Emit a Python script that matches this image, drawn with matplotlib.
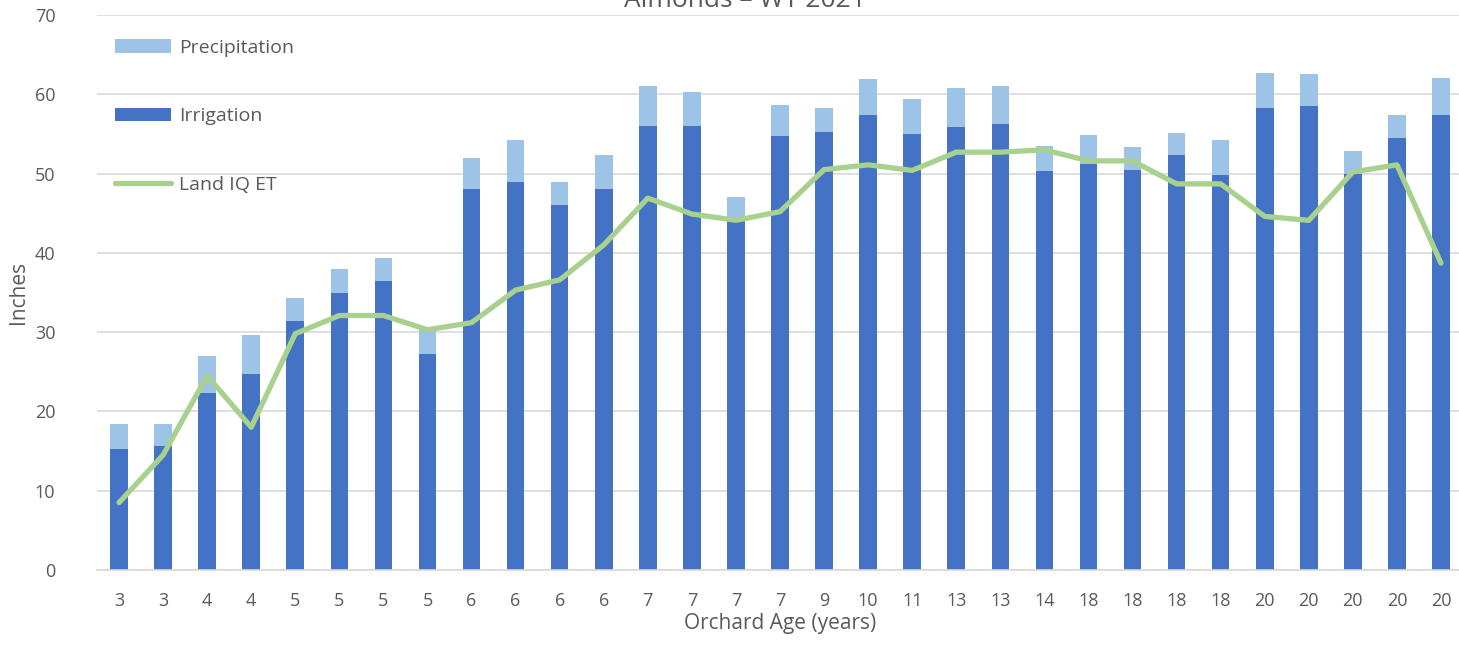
import numpy as np
import matplotlib
matplotlib.use("Agg")
import matplotlib.pyplot as plt

plt.rcParams["font.family"] = ["Open Sans", "DejaVu Sans"]

# ===== data =====
ages = ["3", "3", "4", "4", "5", "5", "5", "5", "6", "6", "6", "6", "7", "7", "7", "7",
        "9", "10", "11", "13", "13", "14", "18", "18", "18", "18", "20", "20", "20", "20", "20"]
irrigation = [15.3, 15.6, 22.3, 24.7, 31.4, 35.0, 36.5, 27.2, 48.0, 49.0, 46.0, 48.0,
              56.0, 56.0, 44.2, 54.7, 55.2, 57.4, 55.0, 55.9, 56.3, 50.3, 51.2, 50.5,
              52.3, 49.8, 58.3, 58.5, 50.0, 54.5, 57.4]
total = [18.4, 18.4, 27.0, 29.6, 34.3, 38.0, 39.4, 30.5, 52.0, 54.2, 48.9, 52.4,
         61.0, 60.3, 47.0, 58.7, 58.3, 61.9, 59.4, 60.8, 61.0, 53.5, 54.9, 53.4,
         55.1, 54.2, 62.7, 62.5, 52.8, 57.4, 62.0]
land_iq_et = [8.5, 14.5, 24.5, 18.0, 29.8, 32.1, 32.1, 30.3, 31.2, 35.3, 36.6, 41.0,
              46.9, 44.9, 44.1, 45.2, 50.5, 51.1, 50.4, 52.7, 52.7, 53.0, 51.6, 51.6,
              48.7, 48.7, 44.6, 44.1, 50.2, 51.1, 38.7]
precipitation = [t - i for t, i in zip(total, irrigation)]

BLUE, LIGHT, GREEN = "#4472C4", "#9DC3E6", "#A9D18E"
GRID, TXT = "#D9D9D9", "#595959"

fig = plt.figure(figsize=(14.59, 6.53), dpi=100)
ax = fig.add_axes([97 / 1459, 83 / 653, 1366 / 1459, 555 / 653])

x = np.arange(len(ages))
b_irr = ax.bar(x, irrigation, width=0.4, color=BLUE, label="Irrigation", zorder=2)
b_pre = ax.bar(x, precipitation, width=0.4, bottom=irrigation, color=LIGHT, label="Precipitation", zorder=2)
l_et, = ax.plot(x, land_iq_et, color=GREEN, lw=3.8, solid_joinstyle="round", solid_capstyle="round",
                label="Land IQ ET", zorder=3)

ax.set_xlim(-0.5, len(ages) - 0.5)
ax.set_ylim(0, 70)
ax.set_yticks(range(0, 71, 10))
ax.set_xticks(x)
ax.set_xticklabels(ages)
ax.tick_params(length=0, labelsize=13, labelcolor=TXT)
ax.tick_params(axis="x", pad=16)
ax.tick_params(axis="y", pad=30)
ax.grid(axis="y", color=GRID, lw=1.2, zorder=0)
ax.set_axisbelow(True)
for s in ["top", "right", "left"]:
    ax.spines[s].set_visible(False)
ax.spines["bottom"].set_color(GRID)
ax.spines["bottom"].set_linewidth(1.2)

ax.set_xlabel("Orchard Age (years)", fontsize=15, color=TXT, labelpad=2)
ax.set_ylabel("Inches", fontsize=15, color=TXT, labelpad=4)

ax.legend([b_pre, b_irr, l_et], ["Precipitation", "Irrigation", "Land IQ ET"],
          loc="upper left", bbox_to_anchor=(0.003, 0.982), frameon=False,
          fontsize=14, labelcolor=TXT, labelspacing=2.6, handlelength=2.9,
          handletextpad=0.4, borderaxespad=0.3)

fig.text(745 / 1459, 1 - 7 / 653, "Almonds – WY 2021", fontsize=19, color=TXT,
         ha="center", va="baseline")

fig.savefig("out.png", dpi=100, facecolor="white")
